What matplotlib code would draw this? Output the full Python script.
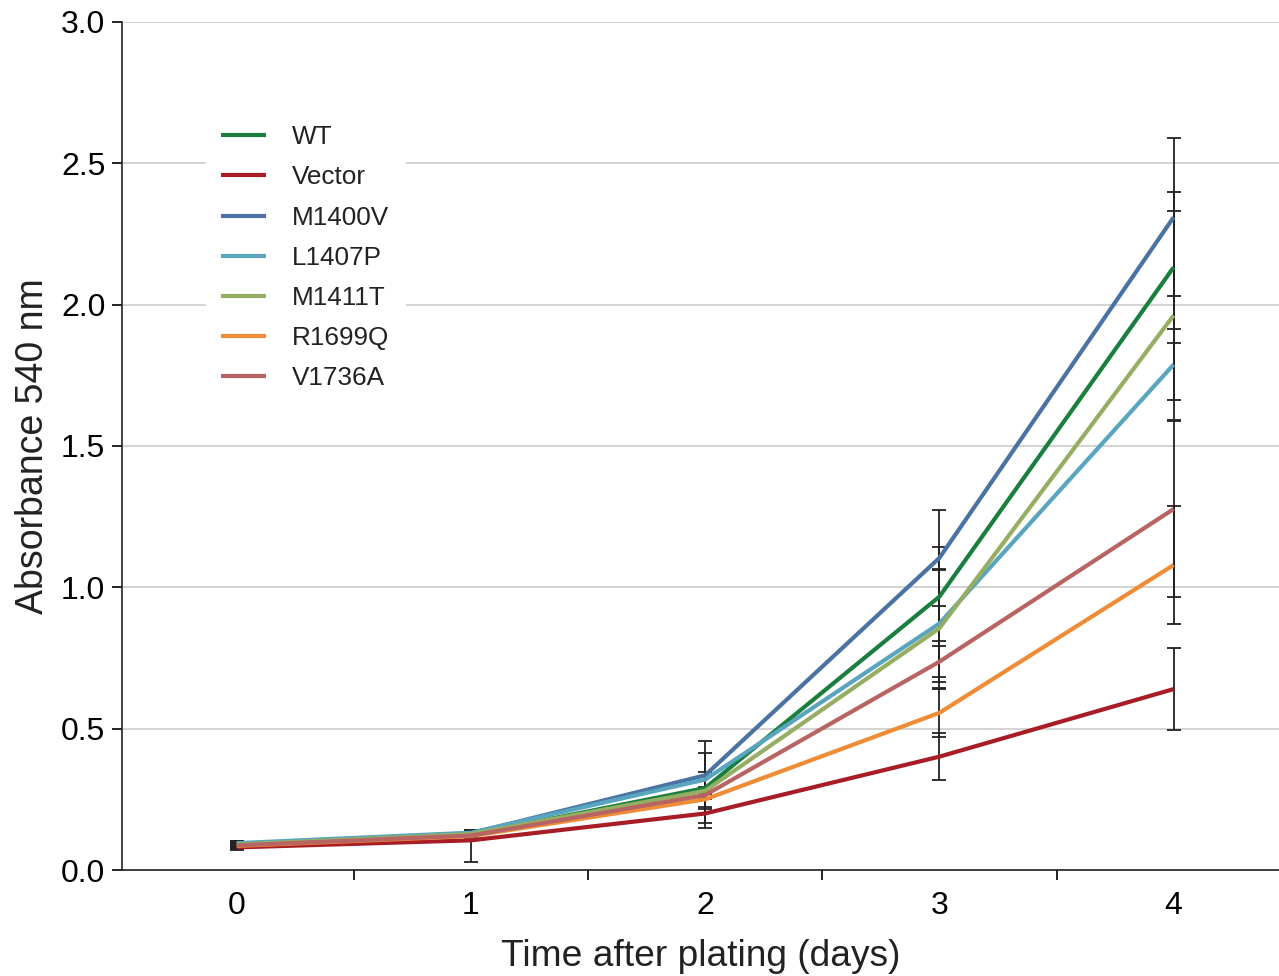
import matplotlib
matplotlib.use("Agg")
import matplotlib.pyplot as plt
from matplotlib.ticker import FixedLocator

plt.rcParams['font.family'] = ['Liberation Sans', 'DejaVu Sans']

days = [0, 1, 2, 3, 4]
series_names = ["WT", "Vector", "M1400V", "L1407P", "M1411T", "R1699Q", "V1736A"]
colors = ["#1a7f3e", "#a81c25", "#4a72a2", "#58a5bd", "#95ae63", "#ef8c36", "#b86463"]

wt      = [0.088, 0.125, 0.290, 0.967, 2.132]
vector  = [0.080, 0.105, 0.200, 0.401, 0.640]
m1400v  = [0.092, 0.130, 0.335, 1.104, 2.309]
l1407p  = [0.095, 0.132, 0.320, 0.872, 1.788]
m1411t  = [0.090, 0.127, 0.280, 0.855, 1.962]
r1699q  = [0.085, 0.120, 0.250, 0.556, 1.079]
v1736a  = [0.087, 0.122, 0.265, 0.737, 1.277]

wt_err      = [0.015, 0.010, 0.125, 0.176, 0.267]
vector_err_lo = [0.010, 0.075, 0.050, 0.082, 0.146]
vector_err_hi = [0.010, 0.020, 0.050, 0.082, 0.146]
m1400v_err  = [0.010, 0.010, 0.120, 0.169, 0.280]
l1407p_err  = [0.008, 0.008, 0.025, 0.190, 0.125]
m1411t_err  = [0.008, 0.008, 0.010, 0.210, 0.370]
r1699q_err  = [0.008, 0.008, 0.028, 0.085, 0.210]
v1736a_err  = [0.008, 0.008, 0.010, 0.072, 0.310]

values = [wt, vector, m1400v, l1407p, m1411t, r1699q, v1736a]
errs_lo = [wt_err, vector_err_lo, m1400v_err, l1407p_err, m1411t_err, r1699q_err, v1736a_err]
errs_hi = [wt_err, vector_err_hi, m1400v_err, l1407p_err, m1411t_err, r1699q_err, v1736a_err]

y_ticks = [0.0, 0.5, 1.0, 1.5, 2.0, 2.5, 3.0]

fig = plt.figure(figsize=(12.79, 9.76), dpi=100)
ax = fig.add_axes([0.0954, 0.1086, 0.9046, 0.8689])

for name, vals, lo, hi, c in zip(series_names, values, errs_lo, errs_hi, colors):
    ax.errorbar(days, vals, yerr=[lo, hi], fmt='none', ecolor='#222222',
                elinewidth=1.3, capsize=5, capthick=1.3, zorder=2)
for name, vals, c in zip(series_names, values, colors):
    ax.plot(days, vals, color=c, lw=3.0, label=name, zorder=3, solid_capstyle='butt')

ax.set_xlim(-0.49, 4.45)
ax.set_ylim(0, 3.0)
ax.set_yticks(y_ticks)
ax.set_yticklabels([f"{t:.1f}" for t in y_ticks])
ax.set_xticks(days)
ax.set_xticklabels([str(d) for d in days])
ax.xaxis.set_minor_locator(FixedLocator([0.5, 1.5, 2.5, 3.5]))

ax.tick_params(axis='x', which='major', length=0, pad=15, labelsize=23)
ax.tick_params(axis='x', which='minor', length=7, width=1.2, direction='out')
ax.tick_params(axis='y', which='major', length=7, width=1.2, pad=5, labelsize=23)

for s in ['top', 'right']:
    ax.spines[s].set_visible(False)
for s in ['left', 'bottom']:
    ax.spines[s].set_linewidth(1.2)
    ax.spines[s].set_color('#222222')

ax.grid(axis='y', color='#c8c8c8', lw=1.1, zorder=0)
ax.set_axisbelow(True)

ax.set_xlabel("Time after plating (days)", fontsize=26.7, labelpad=13, color='#222222')
ax.set_ylabel("Absorbance 540 nm", fontsize=27, labelpad=7, color='#222222')

leg = ax.legend(loc='upper left', bbox_to_anchor=(0.061, 0.912), frameon=True,
                fontsize=18.8, handlelength=1.7, handletextpad=1.0, labelspacing=0.62,
                borderpad=0.6)
leg.get_frame().set_facecolor('white')
leg.get_frame().set_edgecolor('white')
leg.get_frame().set_alpha(1.0)
for t in leg.get_texts():
    t.set_color('#222222')

fig.savefig("out.png", dpi=100)
